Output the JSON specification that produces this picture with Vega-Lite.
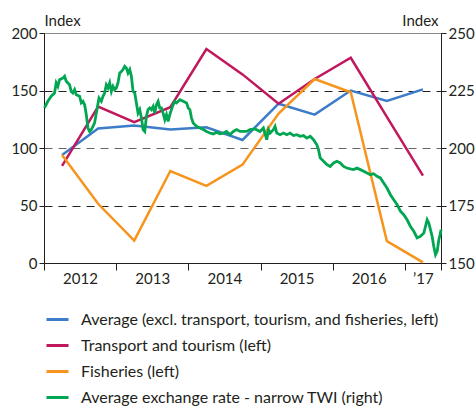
{
  "$schema": "https://vega.github.io/schema/vega-lite/v6.json",
  "width": 397,
  "height": 230,
  "autosize": {"type": "none"},
  "padding": {"left": 44, "top": 33, "right": 35, "bottom": 145},
  "config": {
    "font": "Lato",
    "view": {"stroke": "#8a8a8a", "strokeWidth": 1},
    "axis": {
      "labelFont": "Lato", "labelFontSize": 15, "labelColor": "#231f20",
      "titleFont": "Lato", "titleFontSize": 15, "titleColor": "#231f20", "titleFontWeight": "normal",
      "domainColor": "#231f20", "tickColor": "#231f20", "labelFlush": false, "labelOverlap": false, "labelBound": false
    },
    "legend": {"labelFont": "Lato", "labelFontSize": 16, "labelColor": "#231f20"}
  },
  "datasets": {
    "left": [
      {"s": "Average (excl. transport, tourism, and fisheries, left)", "t": 2012.25, "v": 94},
      {"s": "Average (excl. transport, tourism, and fisheries, left)", "t": 2012.75, "v": 117},
      {"s": "Average (excl. transport, tourism, and fisheries, left)", "t": 2013.25, "v": 119.5},
      {"s": "Average (excl. transport, tourism, and fisheries, left)", "t": 2013.75, "v": 116},
      {"s": "Average (excl. transport, tourism, and fisheries, left)", "t": 2014.25, "v": 118},
      {"s": "Average (excl. transport, tourism, and fisheries, left)", "t": 2014.75, "v": 107},
      {"s": "Average (excl. transport, tourism, and fisheries, left)", "t": 2015.25, "v": 138.5},
      {"s": "Average (excl. transport, tourism, and fisheries, left)", "t": 2015.75, "v": 129},
      {"s": "Average (excl. transport, tourism, and fisheries, left)", "t": 2016.25, "v": 150},
      {"s": "Average (excl. transport, tourism, and fisheries, left)", "t": 2016.75, "v": 141},
      {"s": "Average (excl. transport, tourism, and fisheries, left)", "t": 2017.25, "v": 151},
      {"s": "Transport and tourism (left)", "t": 2012.25, "v": 84.5},
      {"s": "Transport and tourism (left)", "t": 2012.75, "v": 136},
      {"s": "Transport and tourism (left)", "t": 2013.25, "v": 122.5},
      {"s": "Transport and tourism (left)", "t": 2013.75, "v": 135.5},
      {"s": "Transport and tourism (left)", "t": 2014.25, "v": 186},
      {"s": "Transport and tourism (left)", "t": 2014.75, "v": 164},
      {"s": "Transport and tourism (left)", "t": 2015.25, "v": 138.5},
      {"s": "Transport and tourism (left)", "t": 2015.75, "v": 160},
      {"s": "Transport and tourism (left)", "t": 2016.25, "v": 178.5},
      {"s": "Transport and tourism (left)", "t": 2016.75, "v": 127},
      {"s": "Transport and tourism (left)", "t": 2017.25, "v": 76},
      {"s": "Fisheries (left)", "t": 2012.25, "v": 94},
      {"s": "Fisheries (left)", "t": 2012.75, "v": 51.5},
      {"s": "Fisheries (left)", "t": 2013.25, "v": 19.5},
      {"s": "Fisheries (left)", "t": 2013.75, "v": 80},
      {"s": "Fisheries (left)", "t": 2014.25, "v": 67},
      {"s": "Fisheries (left)", "t": 2014.75, "v": 85.5},
      {"s": "Fisheries (left)", "t": 2015.25, "v": 130},
      {"s": "Fisheries (left)", "t": 2015.75, "v": 160},
      {"s": "Fisheries (left)", "t": 2016.25, "v": 148.5},
      {"s": "Fisheries (left)", "t": 2016.75, "v": 19},
      {"s": "Fisheries (left)", "t": 2017.25, "v": 0.5}
    ],
    "twi": [
      {"s": "Average exchange rate - narrow TWI (right)", "t": 2012.007, "v": 217.4},
      {"s": "Average exchange rate - narrow TWI (right)", "t": 2012.053, "v": 220.3},
      {"s": "Average exchange rate - narrow TWI (right)", "t": 2012.100, "v": 222.5},
      {"s": "Average exchange rate - narrow TWI (right)", "t": 2012.146, "v": 223.9},
      {"s": "Average exchange rate - narrow TWI (right)", "t": 2012.169, "v": 228.3},
      {"s": "Average exchange rate - narrow TWI (right)", "t": 2012.192, "v": 226.8},
      {"s": "Average exchange rate - narrow TWI (right)", "t": 2012.215, "v": 229.7},
      {"s": "Average exchange rate - narrow TWI (right)", "t": 2012.262, "v": 230.4},
      {"s": "Average exchange rate - narrow TWI (right)", "t": 2012.285, "v": 231.2},
      {"s": "Average exchange rate - narrow TWI (right)", "t": 2012.308, "v": 229.0},
      {"s": "Average exchange rate - narrow TWI (right)", "t": 2012.354, "v": 227.5},
      {"s": "Average exchange rate - narrow TWI (right)", "t": 2012.377, "v": 224.6},
      {"s": "Average exchange rate - narrow TWI (right)", "t": 2012.400, "v": 223.9},
      {"s": "Average exchange rate - narrow TWI (right)", "t": 2012.424, "v": 225.4},
      {"s": "Average exchange rate - narrow TWI (right)", "t": 2012.447, "v": 223.2},
      {"s": "Average exchange rate - narrow TWI (right)", "t": 2012.493, "v": 222.5},
      {"s": "Average exchange rate - narrow TWI (right)", "t": 2012.516, "v": 219.6},
      {"s": "Average exchange rate - narrow TWI (right)", "t": 2012.539, "v": 220.3},
      {"s": "Average exchange rate - narrow TWI (right)", "t": 2012.563, "v": 218.8},
      {"s": "Average exchange rate - narrow TWI (right)", "t": 2012.586, "v": 214.5},
      {"s": "Average exchange rate - narrow TWI (right)", "t": 2012.609, "v": 208.7},
      {"s": "Average exchange rate - narrow TWI (right)", "t": 2012.632, "v": 207.2},
      {"s": "Average exchange rate - narrow TWI (right)", "t": 2012.655, "v": 208.0},
      {"s": "Average exchange rate - narrow TWI (right)", "t": 2012.678, "v": 209.4},
      {"s": "Average exchange rate - narrow TWI (right)", "t": 2012.701, "v": 210.9},
      {"s": "Average exchange rate - narrow TWI (right)", "t": 2012.725, "v": 215.2},
      {"s": "Average exchange rate - narrow TWI (right)", "t": 2012.762, "v": 221.7},
      {"s": "Average exchange rate - narrow TWI (right)", "t": 2012.794, "v": 220.3},
      {"s": "Average exchange rate - narrow TWI (right)", "t": 2012.817, "v": 222.5},
      {"s": "Average exchange rate - narrow TWI (right)", "t": 2012.840, "v": 223.9},
      {"s": "Average exchange rate - narrow TWI (right)", "t": 2012.863, "v": 227.5},
      {"s": "Average exchange rate - narrow TWI (right)", "t": 2012.887, "v": 226.1},
      {"s": "Average exchange rate - narrow TWI (right)", "t": 2012.910, "v": 228.3},
      {"s": "Average exchange rate - narrow TWI (right)", "t": 2012.933, "v": 224.6},
      {"s": "Average exchange rate - narrow TWI (right)", "t": 2012.956, "v": 226.8},
      {"s": "Average exchange rate - narrow TWI (right)", "t": 2012.979, "v": 225.4},
      {"s": "Average exchange rate - narrow TWI (right)", "t": 2013.002, "v": 226.1},
      {"s": "Average exchange rate - narrow TWI (right)", "t": 2013.025, "v": 228.3},
      {"s": "Average exchange rate - narrow TWI (right)", "t": 2013.049, "v": 232.6},
      {"s": "Average exchange rate - narrow TWI (right)", "t": 2013.072, "v": 233.3},
      {"s": "Average exchange rate - narrow TWI (right)", "t": 2013.095, "v": 234.1},
      {"s": "Average exchange rate - narrow TWI (right)", "t": 2013.118, "v": 235.5},
      {"s": "Average exchange rate - narrow TWI (right)", "t": 2013.141, "v": 234.8},
      {"s": "Average exchange rate - narrow TWI (right)", "t": 2013.164, "v": 232.6},
      {"s": "Average exchange rate - narrow TWI (right)", "t": 2013.188, "v": 234.1},
      {"s": "Average exchange rate - narrow TWI (right)", "t": 2013.211, "v": 231.2},
      {"s": "Average exchange rate - narrow TWI (right)", "t": 2013.234, "v": 224.6},
      {"s": "Average exchange rate - narrow TWI (right)", "t": 2013.257, "v": 223.9},
      {"s": "Average exchange rate - narrow TWI (right)", "t": 2013.280, "v": 219.6},
      {"s": "Average exchange rate - narrow TWI (right)", "t": 2013.303, "v": 215.2},
      {"s": "Average exchange rate - narrow TWI (right)", "t": 2013.326, "v": 216.7},
      {"s": "Average exchange rate - narrow TWI (right)", "t": 2013.350, "v": 213.0},
      {"s": "Average exchange rate - narrow TWI (right)", "t": 2013.373, "v": 208.0},
      {"s": "Average exchange rate - narrow TWI (right)", "t": 2013.396, "v": 207.2},
      {"s": "Average exchange rate - narrow TWI (right)", "t": 2013.419, "v": 213.8},
      {"s": "Average exchange rate - narrow TWI (right)", "t": 2013.442, "v": 216.7},
      {"s": "Average exchange rate - narrow TWI (right)", "t": 2013.465, "v": 217.4},
      {"s": "Average exchange rate - narrow TWI (right)", "t": 2013.488, "v": 216.7},
      {"s": "Average exchange rate - narrow TWI (right)", "t": 2013.512, "v": 218.1},
      {"s": "Average exchange rate - narrow TWI (right)", "t": 2013.535, "v": 215.2},
      {"s": "Average exchange rate - narrow TWI (right)", "t": 2013.558, "v": 218.8},
      {"s": "Average exchange rate - narrow TWI (right)", "t": 2013.581, "v": 220.3},
      {"s": "Average exchange rate - narrow TWI (right)", "t": 2013.604, "v": 217.4},
      {"s": "Average exchange rate - narrow TWI (right)", "t": 2013.627, "v": 217.4},
      {"s": "Average exchange rate - narrow TWI (right)", "t": 2013.650, "v": 215.2},
      {"s": "Average exchange rate - narrow TWI (right)", "t": 2013.674, "v": 212.3},
      {"s": "Average exchange rate - narrow TWI (right)", "t": 2013.697, "v": 214.5},
      {"s": "Average exchange rate - narrow TWI (right)", "t": 2013.720, "v": 211.6},
      {"s": "Average exchange rate - narrow TWI (right)", "t": 2013.743, "v": 214.5},
      {"s": "Average exchange rate - narrow TWI (right)", "t": 2013.766, "v": 216.7},
      {"s": "Average exchange rate - narrow TWI (right)", "t": 2013.789, "v": 218.8},
      {"s": "Average exchange rate - narrow TWI (right)", "t": 2013.813, "v": 220.3},
      {"s": "Average exchange rate - narrow TWI (right)", "t": 2013.836, "v": 219.6},
      {"s": "Average exchange rate - narrow TWI (right)", "t": 2013.882, "v": 221.0},
      {"s": "Average exchange rate - narrow TWI (right)", "t": 2013.928, "v": 220.3},
      {"s": "Average exchange rate - narrow TWI (right)", "t": 2013.975, "v": 219.6},
      {"s": "Average exchange rate - narrow TWI (right)", "t": 2013.998, "v": 217.4},
      {"s": "Average exchange rate - narrow TWI (right)", "t": 2014.021, "v": 216.7},
      {"s": "Average exchange rate - narrow TWI (right)", "t": 2014.044, "v": 213.0},
      {"s": "Average exchange rate - narrow TWI (right)", "t": 2014.067, "v": 210.9},
      {"s": "Average exchange rate - narrow TWI (right)", "t": 2014.113, "v": 209.4},
      {"s": "Average exchange rate - narrow TWI (right)", "t": 2014.160, "v": 208.7},
      {"s": "Average exchange rate - narrow TWI (right)", "t": 2014.206, "v": 208.0},
      {"s": "Average exchange rate - narrow TWI (right)", "t": 2014.252, "v": 207.2},
      {"s": "Average exchange rate - narrow TWI (right)", "t": 2014.299, "v": 206.5},
      {"s": "Average exchange rate - narrow TWI (right)", "t": 2014.345, "v": 206.1},
      {"s": "Average exchange rate - narrow TWI (right)", "t": 2014.391, "v": 206.8},
      {"s": "Average exchange rate - narrow TWI (right)", "t": 2014.438, "v": 206.2},
      {"s": "Average exchange rate - narrow TWI (right)", "t": 2014.484, "v": 206.5},
      {"s": "Average exchange rate - narrow TWI (right)", "t": 2014.530, "v": 207.2},
      {"s": "Average exchange rate - narrow TWI (right)", "t": 2014.576, "v": 205.8},
      {"s": "Average exchange rate - narrow TWI (right)", "t": 2014.623, "v": 207.2},
      {"s": "Average exchange rate - narrow TWI (right)", "t": 2014.669, "v": 208.0},
      {"s": "Average exchange rate - narrow TWI (right)", "t": 2014.715, "v": 207.2},
      {"s": "Average exchange rate - narrow TWI (right)", "t": 2014.808, "v": 207.2},
      {"s": "Average exchange rate - narrow TWI (right)", "t": 2014.854, "v": 208.0},
      {"s": "Average exchange rate - narrow TWI (right)", "t": 2014.924, "v": 208.3},
      {"s": "Average exchange rate - narrow TWI (right)", "t": 2014.993, "v": 207.2},
      {"s": "Average exchange rate - narrow TWI (right)", "t": 2015.039, "v": 208.7},
      {"s": "Average exchange rate - narrow TWI (right)", "t": 2015.086, "v": 203.6},
      {"s": "Average exchange rate - narrow TWI (right)", "t": 2015.109, "v": 208.0},
      {"s": "Average exchange rate - narrow TWI (right)", "t": 2015.132, "v": 206.5},
      {"s": "Average exchange rate - narrow TWI (right)", "t": 2015.178, "v": 208.0},
      {"s": "Average exchange rate - narrow TWI (right)", "t": 2015.201, "v": 209.4},
      {"s": "Average exchange rate - narrow TWI (right)", "t": 2015.225, "v": 206.5},
      {"s": "Average exchange rate - narrow TWI (right)", "t": 2015.271, "v": 205.8},
      {"s": "Average exchange rate - narrow TWI (right)", "t": 2015.317, "v": 206.5},
      {"s": "Average exchange rate - narrow TWI (right)", "t": 2015.364, "v": 205.8},
      {"s": "Average exchange rate - narrow TWI (right)", "t": 2015.410, "v": 206.5},
      {"s": "Average exchange rate - narrow TWI (right)", "t": 2015.456, "v": 205.4},
      {"s": "Average exchange rate - narrow TWI (right)", "t": 2015.503, "v": 205.8},
      {"s": "Average exchange rate - narrow TWI (right)", "t": 2015.549, "v": 205.1},
      {"s": "Average exchange rate - narrow TWI (right)", "t": 2015.595, "v": 205.4},
      {"s": "Average exchange rate - narrow TWI (right)", "t": 2015.641, "v": 204.3},
      {"s": "Average exchange rate - narrow TWI (right)", "t": 2015.688, "v": 205.1},
      {"s": "Average exchange rate - narrow TWI (right)", "t": 2015.734, "v": 203.6},
      {"s": "Average exchange rate - narrow TWI (right)", "t": 2015.780, "v": 201.4},
      {"s": "Average exchange rate - narrow TWI (right)", "t": 2015.803, "v": 199.3},
      {"s": "Average exchange rate - narrow TWI (right)", "t": 2015.826, "v": 195.7},
      {"s": "Average exchange rate - narrow TWI (right)", "t": 2015.873, "v": 194.2},
      {"s": "Average exchange rate - narrow TWI (right)", "t": 2015.919, "v": 192.8},
      {"s": "Average exchange rate - narrow TWI (right)", "t": 2015.965, "v": 192.0},
      {"s": "Average exchange rate - narrow TWI (right)", "t": 2016.012, "v": 193.5},
      {"s": "Average exchange rate - narrow TWI (right)", "t": 2016.058, "v": 194.2},
      {"s": "Average exchange rate - narrow TWI (right)", "t": 2016.104, "v": 193.5},
      {"s": "Average exchange rate - narrow TWI (right)", "t": 2016.150, "v": 192.0},
      {"s": "Average exchange rate - narrow TWI (right)", "t": 2016.197, "v": 191.3},
      {"s": "Average exchange rate - narrow TWI (right)", "t": 2016.243, "v": 190.9},
      {"s": "Average exchange rate - narrow TWI (right)", "t": 2016.289, "v": 190.6},
      {"s": "Average exchange rate - narrow TWI (right)", "t": 2016.336, "v": 191.3},
      {"s": "Average exchange rate - narrow TWI (right)", "t": 2016.382, "v": 190.6},
      {"s": "Average exchange rate - narrow TWI (right)", "t": 2016.428, "v": 189.9},
      {"s": "Average exchange rate - narrow TWI (right)", "t": 2016.475, "v": 189.1},
      {"s": "Average exchange rate - narrow TWI (right)", "t": 2016.521, "v": 188.4},
      {"s": "Average exchange rate - narrow TWI (right)", "t": 2016.567, "v": 188.8},
      {"s": "Average exchange rate - narrow TWI (right)", "t": 2016.613, "v": 187.7},
      {"s": "Average exchange rate - narrow TWI (right)", "t": 2016.660, "v": 187.0},
      {"s": "Average exchange rate - narrow TWI (right)", "t": 2016.706, "v": 184.8},
      {"s": "Average exchange rate - narrow TWI (right)", "t": 2016.752, "v": 182.6},
      {"s": "Average exchange rate - narrow TWI (right)", "t": 2016.799, "v": 179.7},
      {"s": "Average exchange rate - narrow TWI (right)", "t": 2016.845, "v": 177.5},
      {"s": "Average exchange rate - narrow TWI (right)", "t": 2016.891, "v": 175.4},
      {"s": "Average exchange rate - narrow TWI (right)", "t": 2016.938, "v": 172.5},
      {"s": "Average exchange rate - narrow TWI (right)", "t": 2016.984, "v": 171.0},
      {"s": "Average exchange rate - narrow TWI (right)", "t": 2017.030, "v": 168.8},
      {"s": "Average exchange rate - narrow TWI (right)", "t": 2017.077, "v": 165.9},
      {"s": "Average exchange rate - narrow TWI (right)", "t": 2017.123, "v": 163.8},
      {"s": "Average exchange rate - narrow TWI (right)", "t": 2017.169, "v": 160.9},
      {"s": "Average exchange rate - narrow TWI (right)", "t": 2017.215, "v": 161.6},
      {"s": "Average exchange rate - narrow TWI (right)", "t": 2017.238, "v": 162.3},
      {"s": "Average exchange rate - narrow TWI (right)", "t": 2017.262, "v": 163.0},
      {"s": "Average exchange rate - narrow TWI (right)", "t": 2017.285, "v": 165.9},
      {"s": "Average exchange rate - narrow TWI (right)", "t": 2017.308, "v": 168.8},
      {"s": "Average exchange rate - narrow TWI (right)", "t": 2017.331, "v": 167.4},
      {"s": "Average exchange rate - narrow TWI (right)", "t": 2017.354, "v": 164.5},
      {"s": "Average exchange rate - narrow TWI (right)", "t": 2017.377, "v": 161.6},
      {"s": "Average exchange rate - narrow TWI (right)", "t": 2017.400, "v": 157.2},
      {"s": "Average exchange rate - narrow TWI (right)", "t": 2017.424, "v": 153.6},
      {"s": "Average exchange rate - narrow TWI (right)", "t": 2017.447, "v": 155.1},
      {"s": "Average exchange rate - narrow TWI (right)", "t": 2017.470, "v": 160.1},
      {"s": "Average exchange rate - narrow TWI (right)", "t": 2017.493, "v": 163.0},
      {"s": "Average exchange rate - narrow TWI (right)", "t": 2017.500, "v": 164.5}
    ]
  },
  "layer": [
    {
      "data": {"name": "left"},
      "mark": {"type": "line", "strokeWidth": 2.5},
      "encoding": {
        "x": {
          "field": "t", "type": "quantitative",
          "scale": {"domain": [2012, 2017.5], "nice": false, "zero": false},
          "axis": {
            "title": null, "grid": false,
            "values": [2012, 2013, 2014, 2015, 2016, 2017, 2017.5],
            "labelExpr": "datum.value == 2017.5 ? '' : (datum.value == 2017 ? '\u201917' : format(datum.value, 'd'))",
            "tickSize": 7, "labelPadding": 1,
            "labelOffset": {"condition": {"test": "datum.value == 2017", "value": 18}, "value": 36}
          }
        },
        "y": {
          "field": "v", "type": "quantitative",
          "scale": {"domain": [0, 200], "nice": false},
          "axis": {
            "title": "Index", "titleAngle": 0, "titleX": 0, "titleY": -8, "titleAlign": "left", "titleBaseline": "alphabetic",
            "values": [0, 50, 100, 150, 200], "tickSize": 5, "labelPadding": 2,
            "grid": true, "gridDash": [8, 6], "gridWidth": 1,
            "gridColor": {"condition": {"test": "datum.value == 100", "value": "#666666"}, "value": "#222222"},
            "gridOpacity": {"condition": {"test": "datum.value == 0 || datum.value == 200", "value": 0}, "value": 1}
          }
        },
        "color": {
          "field": "s", "type": "nominal",
          "scale": {
            "domain": ["Average (excl. transport, tourism, and fisheries, left)", "Transport and tourism (left)", "Fisheries (left)", "Average exchange rate - narrow TWI (right)"],
            "range": ["#3d7cc9", "#c0175d", "#f7941d", "#00a651"]
          },
          "legend": {
            "title": null, "orient": "none", "legendX": 1, "legendY": 274, "direction": "vertical",
            "symbolType": "stroke", "symbolSize": 484, "symbolStrokeWidth": 3,
            "labelOffset": 11, "rowPadding": 5, "padding": 0, "labelLimit": 500
          }
        }
      }
    },
    {
      "data": {"name": "twi"},
      "mark": {"type": "line", "strokeWidth": 2.8},
      "encoding": {
        "x": {"field": "t", "type": "quantitative", "scale": {"domain": [2012, 2017.5], "nice": false, "zero": false}},
        "y": {
          "field": "v", "type": "quantitative",
          "scale": {"domain": [150, 250], "nice": false, "zero": false},
          "axis": {
            "orient": "right", "title": "Index", "titleAngle": 0, "titleX": -3, "titleY": -8, "titleAlign": "right", "titleBaseline": "alphabetic",
            "values": [150, 175, 200, 225, 250], "tickSize": 5, "labelPadding": 2, "grid": false
          }
        },
        "color": {"field": "s", "type": "nominal"}
      }
    }
  ],
  "resolve": {"scale": {"y": "independent"}}
}
